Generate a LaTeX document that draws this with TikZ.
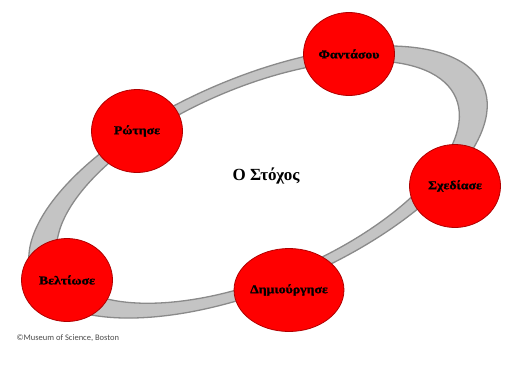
\documentclass[tikz,border=0pt]{standalone}
\usepackage{fontspec}
\setmainfont{Liberation Serif}
\newfontfamily\lblfont[FakeStretch=1.15,FakeBold=1.2]{Liberation Serif}
\newfontfamily\notefont{Carlito}
\usetikzlibrary{shapes.geometric}
\definecolor{ringfill}{HTML}{C4C4C4}
\definecolor{ringline}{HTML}{8A8A8A}
\definecolor{discred}{HTML}{FF0000}
\definecolor{discedge}{HTML}{B00000}
\tikzset{
  stage/.style={ellipse, fill=discred, draw=discedge, line width=0.8pt,
    minimum width=91pt, minimum height=83pt, inner sep=0pt,
    font=\lblfont\bfseries\fontsize{12}{12}\selectfont, text=black},
  ringedge/.style={draw=ringline, line width=1.3pt},
}
\begin{document}
\begin{tikzpicture}[x=1pt,y=-1pt]
  \useasboundingbox (0,0) rectangle (513,372);
  % grey ring: outer and inner ellipse sharing one centre
  \fill[ringfill, even odd rule, shift={(258,182)}, rotate=23]
    (0,0) ellipse [x radius=245, y radius=105]
    (0,0) ellipse [x radius=215, y radius=95];
  \draw[ringedge, shift={(258,182)}, rotate=23]
    (0,0) ellipse [x radius=245, y radius=105];
  \draw[ringedge, shift={(258,182)}, rotate=23]
    (0,0) ellipse [x radius=215, y radius=95];
  % the five stages on the ring
  \node[stage] (fant) at (349,54)  {Φαντάσου};
  \node[stage] (rot)  at (137,131) {Ρώτησε};
  \node[stage] (sxed) at (455,186) {Σχεδίασε};
  \node[stage] (belt) at (67,280)  {Βελτίωσε};
  \node[stage] (dimi) at (289,290) {Δημιούργησε};
  % centre title
  \node[font=\bfseries\fontsize{17}{17}\selectfont] (goal) at (266,176) {Ο Στόχος};
  % credit line
  \node[font=\notefont\fontsize{8.5}{9}\selectfont, text=black!70, anchor=west] (credit) at (13,338) {©Museum of Science, Boston};
\end{tikzpicture}
\end{document}
